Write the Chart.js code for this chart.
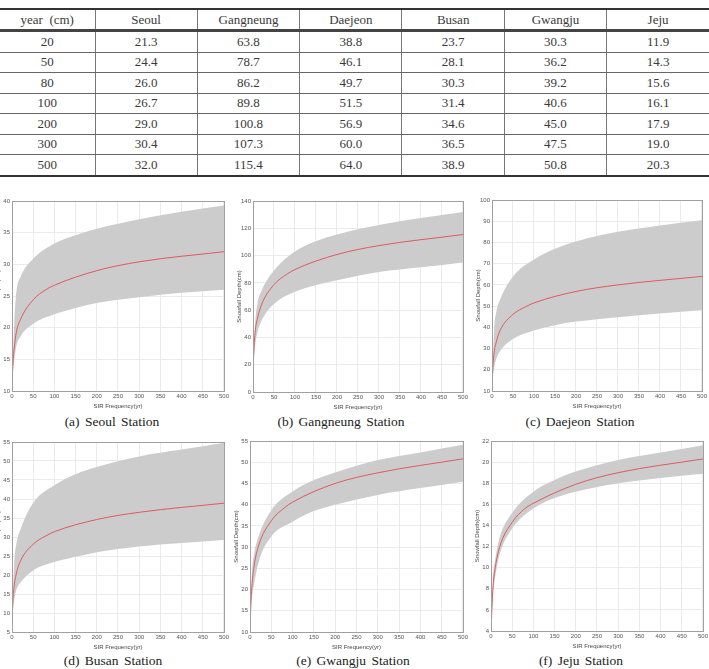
<!DOCTYPE html>
<html>
<head>
<meta charset="utf-8">
<script src="https://cdn.jsdelivr.net/npm/chart.js@4.4.1/dist/chart.umd.min.js"></script>
<style>
  body { margin: 0; background: #fff; }
  #page { position: relative; width: 709px; height: 669px; overflow: hidden; }
  table { position: absolute; left: 0; top: 8px; width: 709px; border-collapse: collapse; table-layout: fixed;
          font-family: "Liberation Serif", "DejaVu Serif", serif; font-size: 13px; color: #3a3a3a; }
  td { text-align: center; font-weight: 400; border-left: 1px solid #777; border-right: 1px solid #777;
       border-bottom: 1px solid #666; height: 19.5px; padding: 0; }
  tr.head td { height: 19px; border-top: 2px solid #333; border-bottom: 3px solid #444; }
  tr:last-child td { border-bottom: 2px solid #333; }
  td:first-child { border-left: none; }
  td:last-child { border-right: none; }
  canvas { position: absolute; }
  .cap { position: absolute; font-family: "Liberation Serif", "DejaVu Serif", serif; font-size: 13.5px;
         color: #222; word-spacing: 2px; white-space: nowrap; transform: translate(-50%, -50%); }
</style>
</head>
<body>
<div id="page">
  <table id="depthTable"></table>
</div>
<script>
// return periods in the table (yr)
const years = [20, 50, 80, 100, 200, 300, 500];
const stations = ['Seoul', 'Gangneung', 'Daejeon', 'Busan', 'Gwangju', 'Jeju'];

// snowfall depth (cm) per station at the return periods above
const seoulDepth = [21.3, 24.4, 26.0, 26.7, 29.0, 30.4, 32.0];
const gangneungDepth = [63.8, 78.7, 86.2, 89.8, 100.8, 107.3, 115.4];
const daejeonDepth = [38.8, 46.1, 49.7, 51.5, 56.9, 60.0, 64.0];
const busanDepth = [23.7, 28.1, 30.3, 31.4, 34.6, 36.5, 38.9];
const gwangjuDepth = [30.3, 36.2, 39.2, 40.6, 45.0, 47.5, 50.8];
const jejuDepth = [11.9, 14.3, 15.6, 16.1, 17.9, 19.0, 20.3];

// start of the red curves
const earlyYears = [1, 2, 5, 10];
const seoulEarly = [12.5, 14.0, 16.6, 19.2];
const gangneungEarly = [22, 30, 44, 53];
const daejeonEarly = [16, 21, 28, 33];
const busanEarly = [10, 13, 17, 20.3];
const gwangjuEarly = [13, 16.5, 21.5, 25.8];
const jejuEarly = [4.8, 6.0, 8.3, 10.0];

// grey uncertainty band
const bandYears = [1, 5, 10, 20, 50, 100, 150, 200, 300, 400, 500];
const seoulUpper = [12.8, 20.5, 25.5, 28.0, 30.9, 33.3, 34.6, 35.6, 37.1, 38.3, 39.3];
const seoulLower = [12.3, 14.8, 17.0, 18.6, 20.6, 22.1, 23.1, 23.9, 24.8, 25.5, 26.0];
const gangneungUpper = [24, 50, 64, 74, 89, 103, 110.5, 115.5, 122.5, 127.5, 132];
const gangneungLower = [21, 34, 43, 52, 64.5, 73.5, 78.5, 82, 88, 91.5, 95];
const daejeonUpper = [17, 39, 47, 53.5, 64, 72, 77, 80.5, 85, 88, 90.4];
const daejeonLower = [15.5, 21, 25, 29, 34.5, 38.5, 41, 42.7, 44.8, 46.5, 48];
const busanUpper = [10.5, 23, 28, 32, 39, 43.6, 46.5, 48.4, 51.2, 53, 54.8];
const busanLower = [9.8, 13.3, 16, 18, 21.2, 23.4, 24.8, 26, 27.5, 28.4, 29.2];
const gwangjuUpper = [14.5, 24.5, 28.5, 32.5, 38.7, 43.1, 45.8, 47.6, 50.5, 52.3, 54.1];
const gwangjuLower = [13.5, 18.3, 21.5, 26.4, 32.5, 36, 38.5, 40, 42.3, 43.9, 45.4];
const jejuUpper = [5.2, 9.2, 10.8, 12.8, 15.2, 17.2, 18.3, 19.1, 20.2, 20.9, 21.6];
const jejuLower = [4.7, 7.6, 9.2, 11.2, 13.7, 15.6, 16.6, 17.2, 18.0, 18.5, 18.9];

// y axis ticks per panel
const yMins = [10, 0, 10, 5, 10, 4];
const yMaxs = [40, 140, 100, 55, 55, 22];
const ySteps = [5, 20, 10, 5, 5, 2];

const captions = ['(a) Seoul Station', '(b) Gangneung Station', '(c) Daejeon Station',
                  '(d) Busan Station', '(e) Gwangju Station', '(f) Jeju Station'];

const depthCols = [seoulDepth, gangneungDepth, daejeonDepth, busanDepth, gwangjuDepth, jejuDepth];
const earlyCols = [seoulEarly, gangneungEarly, daejeonEarly, busanEarly, gwangjuEarly, jejuEarly];
const upperCols = [seoulUpper, gangneungUpper, daejeonUpper, busanUpper, gwangjuUpper, jejuUpper];
const lowerCols = [seoulLower, gangneungLower, daejeonLower, busanLower, gwangjuLower, jejuLower];

// table
const table = document.getElementById('depthTable');
let html = '<colgroup><col style="width:95px">' + stations.map(() => '<col>').join('') + '</colgroup>';
html += '<tr class="head"><td>year&nbsp;&nbsp;(cm)</td>' + stations.map(s => '<td>' + s + '</td>').join('') + '</tr>';
years.forEach((y, i) => {
  html += '<tr><td>' + y + '</td>' + depthCols.map(c => '<td>' + c[i].toFixed(1) + '</td>').join('') + '</tr>';
});
table.innerHTML = html;

// plot areas: [left, top, width, height]
const plots = [
  [12, 201, 213, 190], [253, 201, 211, 191], [492, 200, 211, 191],
  [12, 442, 213, 190], [250, 441, 214, 191], [491, 441, 213, 190]
];
const capPos = [[112, 422], [341, 422], [580, 422], [113, 661], [353, 661], [581, 661]];
const L = 17, T = 6, R = 6, B = 19;

const framePlugin = {
  id: 'frame',
  afterDraw(chart) {
    const a = chart.chartArea, c = chart.ctx;
    c.save();
    c.strokeStyle = '#a0a0a0';
    c.lineWidth = 1;
    c.strokeRect(Math.round(a.left) + 0.5, Math.round(a.top) + 0.5, Math.round(a.right - a.left), Math.round(a.bottom - a.top));
    c.restore();
  }
};

const page = document.getElementById('page');
const tickFont = { family: 'Liberation Sans', size: 6 };

plots.forEach((p, k) => {
  const cv = document.createElement('canvas');
  const w = L + p[2] + R, h = T + p[3] + B;
  cv.width = w; cv.height = h;
  cv.style.left = (p[0] - L) + 'px';
  cv.style.top = (p[1] - T) + 'px';
  cv.style.width = w + 'px'; cv.style.height = h + 'px';
  page.appendChild(cv);

  const lineData = earlyYears.map((x, i) => ({ x: x, y: earlyCols[k][i] }))
    .concat(years.map((x, i) => ({ x: x, y: depthCols[k][i] })));
  const upData = bandYears.map((x, i) => ({ x: x, y: upperCols[k][i] }));
  const loData = bandYears.map((x, i) => ({ x: x, y: lowerCols[k][i] }));

  new Chart(cv.getContext('2d'), {
    type: 'line',
    data: {
      datasets: [
        { data: lineData, borderColor: '#e05a5c', borderWidth: 1, pointRadius: 0, cubicInterpolationMode: 'monotone', fill: false },
        { data: upData, borderWidth: 0, borderColor: 'rgba(0,0,0,0)', backgroundColor: '#cccccc', pointRadius: 0, cubicInterpolationMode: 'monotone', fill: '+1' },
        { data: loData, borderWidth: 0, borderColor: 'rgba(0,0,0,0)', pointRadius: 0, cubicInterpolationMode: 'monotone', fill: false }
      ]
    },
    options: {
      responsive: false,
      animation: false,
      layout: { padding: { top: T, right: R, left: 0, bottom: 0 } },
      plugins: { legend: { display: false }, tooltip: { enabled: false } },
      scales: {
        x: {
          type: 'linear', min: 0, max: 500,
          ticks: { stepSize: 50, font: tickFont, color: '#555', padding: 2, maxRotation: 0 },
          grid: { color: '#ebebeb', drawTicks: false },
          border: { display: false },
          title: { display: true, text: 'SIR Frequency(yr)', font: tickFont, color: '#444', padding: { top: 1, bottom: 0 } },
          afterFit(s) { s.height = B; }
        },
        y: {
          min: yMins[k], max: yMaxs[k],
          ticks: { stepSize: ySteps[k], font: tickFont, color: '#555', padding: 2 },
          grid: { color: '#ebebeb', drawTicks: false },
          border: { display: false },
          title: { display: true, text: 'Snowfall Depth(cm)', font: tickFont, color: '#444', padding: { top: 0, bottom: 1 } },
          afterFit(s) { s.width = L; }
        }
      }
    },
    plugins: [framePlugin]
  });

  const cap = document.createElement('div');
  cap.className = 'cap';
  cap.textContent = captions[k];
  cap.style.left = capPos[k][0] + 'px';
  cap.style.top = capPos[k][1] + 'px';
  page.appendChild(cap);
});
</script>
</body>
</html>
